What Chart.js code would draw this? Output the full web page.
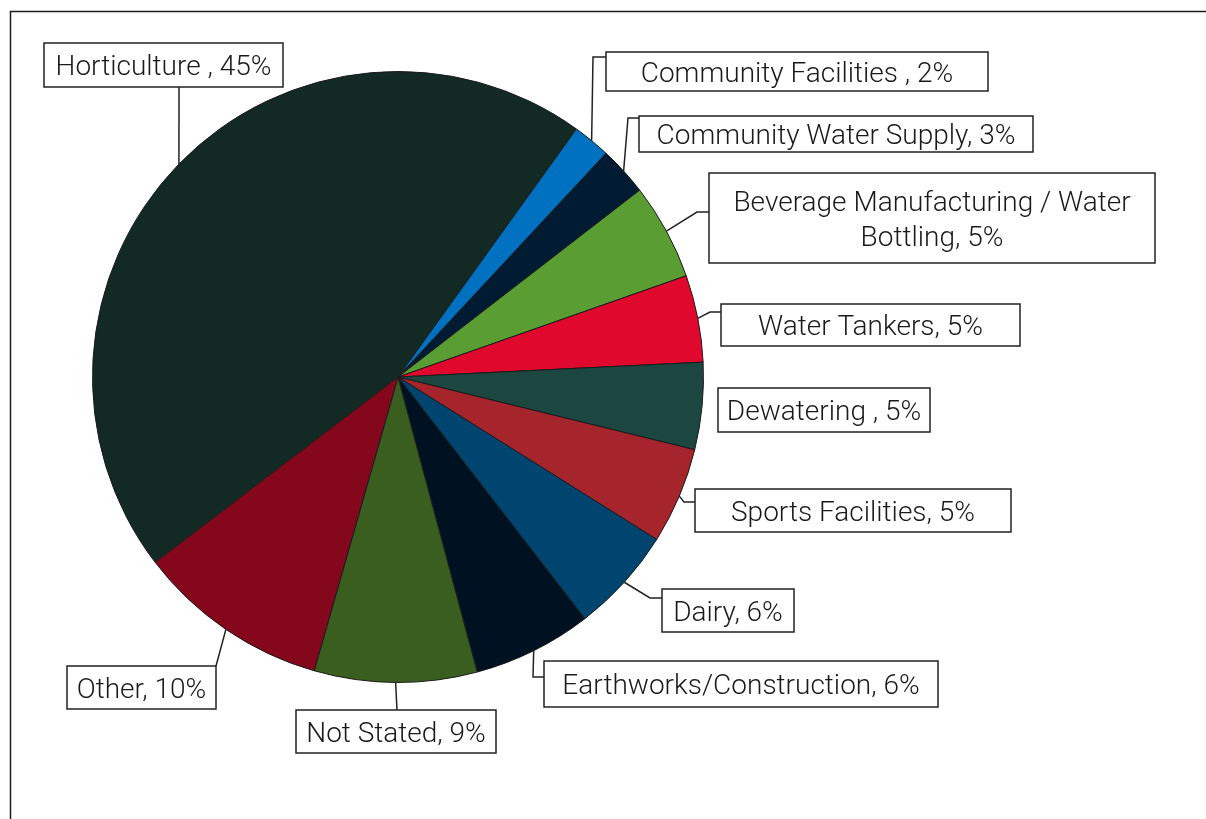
<!DOCTYPE html>
<html>
<head>
<meta charset="utf-8">
<title>Water use by sector</title>
<script src="https://cdn.jsdelivr.net/npm/chart.js@4.4.1/dist/chart.umd.min.js"></script>
<style>
  html, body { margin: 0; padding: 0; background: #fff; }
  #wrap { width: 1206px; height: 819px; }
</style>
</head>
<body>
<div id="wrap"><canvas id="myChart" width="1206" height="819"></canvas></div>
<script>
const categories = [
    'Horticulture ', 'Community Facilities ', 'Community Water Supply',
    'Beverage Manufacturing / Water Bottling', 'Water Tankers', 'Dewatering ',
    'Sports Facilities', 'Dairy', 'Earthworks/Construction', 'Not Stated', 'Other'
];
const shares = [45.3, 2.0, 2.6, 5.1, 4.6, 4.6, 5.1, 5.6, 6.3, 8.6, 10.2];
const colours = [
    '#132a24', '#0070c0', '#011b33', '#5a9e33', '#e0092d', '#1c4640',
    '#a6242b', '#004470', '#001222', '#3a5e1f', '#85071c'
];

// callout boxes as [left, top, width, height]
const boxes = [
    [44, 43, 239, 44], [606, 52, 382, 39], [639, 116, 394, 36],
    [709, 173, 446, 90], [721, 304, 299, 42], [718, 388, 212, 44],
    [695, 489, 316, 43], [662, 589, 132, 43], [544, 661, 394, 46],
    [296, 710, 200, 43], [67, 666, 149, 43]
];
// leader lines: optional bend point, then the point where it meets the box
const leaders = [
    { bend: null, end: [179, 87] },
    { bend: [593, 57], end: [606, 57] },
    { bend: [628, 118], end: [639, 118] },
    { bend: [697, 212], end: [709, 212] },
    { bend: [710, 312], end: [721, 312] },
    null,
    { bend: [684, 502], end: [695, 502] },
    { bend: [650, 598], end: [662, 598] },
    { bend: [533, 677], end: [544, 677] },
    { bend: null, end: [397, 710] },
    { bend: null, end: [216, 666] }
];

const FONT = '300 28px Roboto, "Open Sans", sans-serif';
const INK = '#1a1a1a';

function labelText(i) {
    return categories[i] + ', ' + Math.round(shares[i]) + '%';
}

function wrapLines(ctx, text, maxWidth) {
    const words = text.split(' ');
    const lines = [];
    let line = '';
    words.forEach(w => {
        const test = line ? line + ' ' + w : w;
        if (line && ctx.measureText(test).width > maxWidth) {
            lines.push(line);
            line = w;
        } else {
            line = test;
        }
    });
    if (line) lines.push(line);
    return lines;
}

// thin frame on the top and left edges
const framePlugin = {
    id: 'frame',
    beforeDraw(chart) {
        const c = chart.ctx;
        c.save();
        c.strokeStyle = '#1c1c1c';
        c.lineWidth = 1.5;
        c.beginPath();
        c.moveTo(10.5, chart.height);
        c.lineTo(10.5, 11.5);
        c.lineTo(chart.width, 11.5);
        c.stroke();
        c.restore();
    }
};

// boxed labels with leader lines from the middle of each slice's rim
const calloutPlugin = {
    id: 'callouts',
    afterDatasetsDraw(chart) {
        const c = chart.ctx;
        const arcs = chart.getDatasetMeta(0).data;
        c.save();
        c.strokeStyle = '#222';
        c.lineWidth = 1.5;
        arcs.forEach((arc, i) => {
            const ld = leaders[i];
            if (!ld) return;
            const mid = (arc.startAngle + arc.endAngle) / 2;
            const x0 = arc.x + Math.cos(mid) * arc.outerRadius;
            const y0 = arc.y + Math.sin(mid) * arc.outerRadius;
            c.beginPath();
            c.moveTo(x0, y0);
            if (ld.bend) c.lineTo(ld.bend[0], ld.bend[1]);
            c.lineTo(ld.end[0], ld.end[1]);
            c.stroke();
        });
        c.font = FONT;
        c.textAlign = 'center';
        c.textBaseline = 'middle';
        arcs.forEach((arc, i) => {
            const [x, y, w, h] = boxes[i];
            c.fillStyle = '#fff';
            c.fillRect(x, y, w, h);
            c.strokeStyle = '#222';
            c.strokeRect(x, y, w, h);
            const lines = wrapLines(c, labelText(i), w - 8);
            const lh = 35;
            const cx = x + w / 2;
            const top = y + h / 2 - (lines.length - 1) * lh / 2;
            c.fillStyle = INK;
            lines.forEach((ln, k) => c.fillText(ln, cx, top + k * lh + 3));
        });
        c.restore();
    }
};

const ctx = document.getElementById('myChart');

new Chart(ctx, {
    type: 'pie',
    data: {
        labels: categories,
        datasets: [{
            data: shares,
            backgroundColor: colours,
            borderColor: '#1a1a1a',
            borderWidth: 1
        }]
    },
    options: {
        responsive: false,
        animation: false,
        rotation: 232.65,
        layout: { padding: { left: 92, right: 502, top: 71, bottom: 136 } },
        plugins: {
            legend: { display: false },
            tooltip: { enabled: false }
        }
    },
    plugins: [framePlugin, calloutPlugin]
});
</script>
</body>
</html>
